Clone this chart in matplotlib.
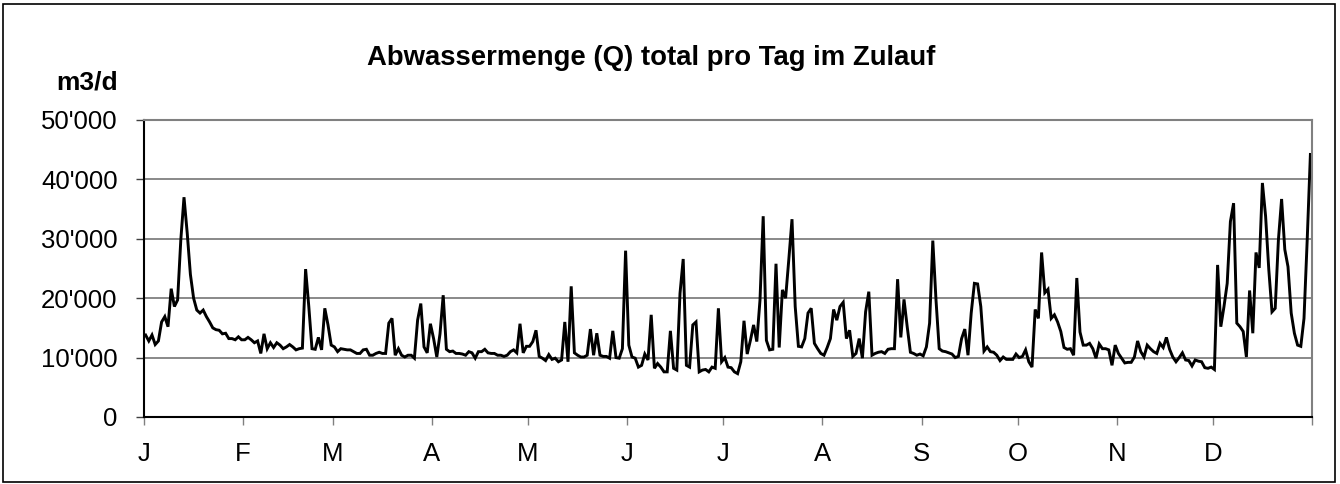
import matplotlib
matplotlib.use("Agg")
import matplotlib.pyplot as plt
from matplotlib.ticker import FuncFormatter, FixedLocator
import numpy as np

plt.rcParams['font.family'] = ['Liberation Sans', 'DejaVu Sans']

# Daily inflow (m3/d), values in thousands
jan = [13.8, 12.8, 13.8, 12.2, 12.8, 16, 16.9, 15.2, 21.6, 18.6, 19.7, 29.8, 37, 31, 24, 20,
       18, 17.5, 18, 16.9, 16, 15, 14.7, 14.6, 14, 14.1, 13.2, 13.2, 13, 13.5, 13]
feb = [13, 13.4, 13, 12.5, 12.8, 10.7, 14, 11.5, 12.5, 11.7, 12.5, 12.1, 11.5, 11.8, 12.2, 11.8,
       11.3, 11.5, 11.6, 24.9, 18.6, 11.5, 11.4, 13.4, 11.3, 18.3, 15.5, 12.1]
mar = [11.8, 11, 11.5, 11.4, 11.3, 11.3, 11, 10.7, 10.7, 11.3, 11.4, 10.4, 10.4, 10.7, 10.9, 10.7,
       10.7, 15.8, 16.6, 10.4, 11.5, 10.4, 10.1, 10.4, 10.4, 9.9, 16.3, 19.1, 11.8, 10.8, 15.7]
apr = [13.2, 10.1, 14, 20.5, 11.4, 11, 11.1, 10.7, 10.7, 10.6, 10.4, 11, 10.8, 9.9, 11, 11,
       11.4, 10.8, 10.7, 10.7, 10.4, 10.4, 10.2, 10.4, 11, 11.3, 10.8, 15.7, 10.8, 11.9]
may = [11.9, 12.7, 14.6, 10.2, 9.9, 9.5, 10.5, 9.7, 9.9, 9.3, 9.6, 16, 9.3, 22, 10.8, 10.4,
       10.1, 10.1, 10.4, 14.8, 10.4, 14.1, 10.4, 10.2, 10.2, 9.9, 14.5, 10, 9.9, 11.5, 28]
jun = [12.1, 10.1, 9.9, 8.4, 8.7, 10.6, 9.6, 17.2, 8.2, 9, 8.4, 7.6, 7.6, 14.5, 8.2, 7.9,
       20.8, 26.6, 8.7, 8.4, 15.5, 16, 7.6, 7.9, 8, 7.6, 8.4, 8.2, 18.3, 9.3]
jul = [10, 8.4, 8.3, 7.6, 7.3, 9.3, 16.2, 10.6, 12.9, 15.5, 12.7, 19.7, 33.8, 12.9, 11.3, 11.4,
       25.8, 11.7, 21.4, 20, 26.5, 33.3, 18.6, 11.9, 11.8, 13.2, 17.5, 18.3, 12.4, 11.5, 10.7]
aug = [10.4, 11.7, 13.2, 18.1, 16.3, 18.6, 19.3, 13.2, 14.6, 10.2, 10.7, 13.2, 9.9, 17.7, 21.1, 10.4,
       10.7, 10.9, 11, 10.7, 11.4, 11.5, 11.5, 23.2, 13.4, 19.8, 15.2, 10.9, 10.7, 10.4, 10.6]
sep = [10.3, 11.8, 15.8, 29.7, 19.7, 11.5, 11.1, 11, 10.8, 10.6, 10, 10.2, 13.2, 14.8, 10.4, 17.5,
       22.5, 22.4, 18.6, 11.1, 11.8, 11, 10.9, 10.4, 9.5, 10.1, 9.7, 9.7, 9.7, 10.6]
oct_ = [10, 10.2, 11.3, 9.3, 8.4, 18.1, 16.6, 27.7, 20.9, 21.5, 16.6, 17.2, 16, 14.4, 11.7, 11.4,
        11.5, 10.4, 23.4, 14.3, 12.1, 12.1, 12.4, 11.5, 9.9, 12.3, 11.5, 11.5, 11.3, 8.7, 12.1]
nov = [10.7, 9.9, 9.1, 9.2, 9.2, 10.1, 12.8, 11, 10.1, 12.1, 11.5, 11, 10.7, 12.4, 11.7, 13.4,
       11.4, 10.1, 9.3, 10, 10.8, 9.6, 9.5, 8.6, 9.6, 9.4, 9.3, 8.3, 8.2, 8.4]
dec = [8, 25.6, 15.2, 18.6, 22.5, 32.9, 36, 15.8, 15.2, 14.4, 10.1, 21.3, 14.1, 27.7, 25.1, 39.4,
       33.8, 24.8, 17.7, 18.3, 29.8, 36.7, 28.2, 25.3, 17.5, 14.1, 12.1, 11.9, 16.6, 29.8, 44.2]

months = [jan, feb, mar, apr, may, jun, jul, aug, sep, oct_, nov, dec]
month_labels = ['J', 'F', 'M', 'A', 'M', 'J', 'J', 'A', 'S', 'O', 'N', 'D']
y_ticks = [0, 10000, 20000, 30000, 40000, 50000]

values = np.concatenate([np.array(m) * 1000 for m in months])
days = np.arange(len(values)) + 0.5
month_starts = np.concatenate([[0], np.cumsum([len(m) for m in months])])

fig = plt.figure(figsize=(13.4, 4.84), dpi=100)
ax = fig.add_axes([144/1340, 1 - 417/484, (1312-144)/1340, (417-120)/484])

ax.plot(days, values, color='black', lw=2.1, solid_joinstyle='miter')

ax.set_xlim(0, month_starts[-1])
ax.set_ylim(0, 50000)
ax.set_yticks(y_ticks)
ax.yaxis.set_major_formatter(FuncFormatter(lambda v, p: f"{int(v):,}".replace(",", "'")))
ax.xaxis.set_major_locator(FixedLocator(month_starts))
ax.set_xticklabels(month_labels + [''])

ax.grid(axis='y', color='#808080', lw=1.3)
ax.set_axisbelow(True)
for s in ['top', 'right']:
    ax.spines[s].set_color('#808080')
    ax.spines[s].set_linewidth(1.5)
for s in ['left', 'bottom']:
    ax.spines[s].set_color('black')
    ax.spines[s].set_linewidth(1.5)

ax.tick_params(axis='y', length=6, width=1, color='#404040', pad=13, labelsize=18.5)
ax.tick_params(axis='x', length=6, width=1, color='#808080', pad=12, labelsize=18.5)

fig.text(651/1340, 1 - 58/484, 'Abwassermenge (Q) total pro Tag im Zulauf',
         ha='center', va='center', fontsize=19.8, fontweight='bold')
fig.text(118/1340, 1 - 82/484, 'm3/d', ha='right', va='center', fontsize=19, fontweight='bold')

fig.patches.append(plt.Rectangle((3/1340, 2/484), 1332/1340, 478/484, transform=fig.transFigure,
                                 fill=False, edgecolor='black', lw=1.2))

fig.savefig('out.png', dpi=100)
